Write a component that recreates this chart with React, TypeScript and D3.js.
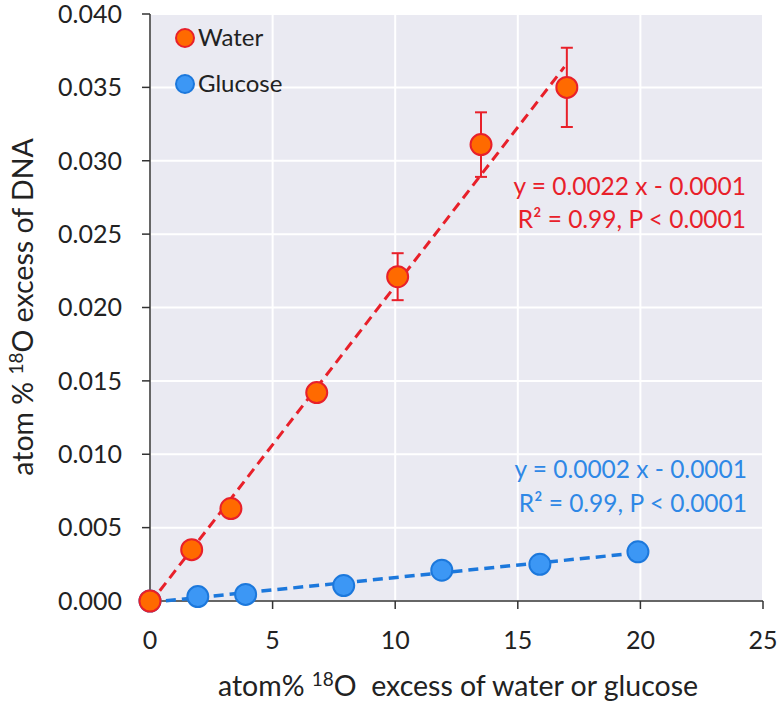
import * as d3 from 'd3'

// Water series (atom% 18O excess of water vs DNA)
const waterX = [0, 1.7, 3.3, 6.8, 10.1, 13.5, 17.0]
const waterY = [0, 0.0035, 0.0063, 0.0142, 0.0221, 0.0311, 0.035]
const waterErr = [0, 0, 0, 0, 0.0016, 0.0022, 0.0027]
const waterFitRange = [0, 16.9]

// Glucose series
const glucoseX = [0, 1.95, 3.9, 7.9, 11.9, 15.9, 19.9]
const glucoseY = [0, 0.0003, 0.00045, 0.00105, 0.0021, 0.0025, 0.00335]
const glucoseFitRange = [0, 19.7]

const xTicks = [0, 5, 10, 15, 20, 25]
const yTicks = [0, 0.005, 0.01, 0.015, 0.02, 0.025, 0.03, 0.035, 0.04]

const legendLabels = ['Water', 'Glucose']
const waterEq = ['y = 0.0022 x - 0.0001', 'R² = 0.99, P < 0.0001']
const glucoseEq = ['y = 0.0002 x - 0.0001', 'R² = 0.99, P < 0.0001']

const width = 779
const height = 706
const margin = { top: 14, right: 16, bottom: 105, left: 150 }
const font = 'Lato, "Open Sans", sans-serif'

const red = '#E8202A'
const orange = '#FF6A00'
const blue = '#2F88E6'
const blueFill = '#3C97F5'
const blueStroke = '#1C78DC'

// least squares fit for the dashed trend lines
function fit(xs: number[], ys: number[]) {
    const mx = d3.mean(xs) as number
    const my = d3.mean(ys) as number
    let sxy = 0
    let sxx = 0
    xs.forEach((x, i) => {
        sxy += (x - mx) * (ys[i] - my)
        sxx += (x - mx) * (x - mx)
    })
    const slope = sxy / sxx
    return { slope, intercept: my - slope * mx }
}

export default function App() {
    const x = d3.scaleLinear().domain([0, 25]).range([margin.left, width - margin.right])
    const y = d3.scaleLinear().domain([0, 0.04]).range([height - margin.bottom, margin.top])
    const fmt = d3.format('.3f')

    const wf = fit(waterX, waterY)
    const gf = fit(glucoseX, glucoseY)
    const line = d3.line<number[]>().x((d) => x(d[0])).y((d) => y(d[1]))
    const waterLine = line(waterFitRange.map((v) => [v, wf.slope * v + wf.intercept]))
    const glucoseLine = line(glucoseFitRange.map((v) => [v, gf.slope * v + gf.intercept]))

    const x0 = margin.left
    const x1 = width - margin.right
    const y0 = height - margin.bottom
    const y1 = margin.top

    return (
        <div style={{ position: 'absolute', left: 0, top: 0 }}>
            <svg width={width} height={height} style={{ display: 'block', background: 'white' }} fontFamily={font}>
                {/* plot background + grid */}
                <rect x={x0} y={y1} width={x1 - x0} height={y0 - y1} fill="#EAEAF2" />
                {yTicks.map((t) => (
                    <line key={'gy' + t} x1={x0} x2={x1} y1={y(t)} y2={y(t)} stroke="white" strokeWidth={2} />
                ))}
                {xTicks.map((t) => (
                    <line key={'gx' + t} x1={x(t)} x2={x(t)} y1={y0} y2={y1} stroke="white" strokeWidth={2} />
                ))}

                {/* axes */}
                <line x1={x0} x2={x0} y1={y1} y2={y0} stroke="#333" strokeWidth={1.5} />
                <line x1={x0} x2={x1} y1={y0} y2={y0} stroke="#333" strokeWidth={1.5} />
                {yTicks.map((t) => (
                    <g key={'ty' + t}>
                        <line x1={x0 - 8} x2={x0} y1={y(t)} y2={y(t)} stroke="#333" strokeWidth={1.5} />
                        <text x={x0 - 28} y={y(t)} dy="0.35em" textAnchor="end" fontSize={25} fill="#222">
                            {fmt(t)}
                        </text>
                    </g>
                ))}
                {xTicks.map((t) => (
                    <g key={'tx' + t}>
                        <line x1={x(t)} x2={x(t)} y1={y0} y2={y0 + 8} stroke="#333" strokeWidth={1.5} />
                        <text x={x(t)} y={y0 + 39} dy="0.35em" textAnchor="middle" fontSize={25} fill="#222">
                            {t}
                        </text>
                    </g>
                ))}

                {/* axis titles */}
                <text x={458} y={696} textAnchor="middle" fontSize={28.5} fill="#222" style={{ whiteSpace: 'pre' }}>
                    atom%{' '}
                    <tspan fontSize={19} dy={-10}>18</tspan>
                    <tspan dy={10}>O  excess of water or glucose</tspan>
                </text>
                <text
                    transform={`translate(33,${307}) rotate(-90)`}
                    textAnchor="middle"
                    fontSize={28.5}
                    fill="#222"
                >
                    atom %{' '}
                    <tspan fontSize={19} dy={-10}>18</tspan>
                    <tspan dy={10}>O excess of DNA</tspan>
                </text>

                {/* regression lines */}
                <path d={waterLine ?? ''} fill="none" stroke={red} strokeWidth={3} strokeDasharray="10 6" />
                <path d={glucoseLine ?? ''} fill="none" stroke={blueStroke} strokeWidth={3.5} strokeDasharray="10 6" />

                {/* error bars */}
                {waterX.map((v, i) =>
                    waterErr[i] > 0 ? (
                        <g key={'e' + i} stroke={red} strokeWidth={2}>
                            <line x1={x(v)} x2={x(v)} y1={y(waterY[i] - waterErr[i])} y2={y(waterY[i] + waterErr[i])} />
                            <line x1={x(v) - 6} x2={x(v) + 6} y1={y(waterY[i] - waterErr[i])} y2={y(waterY[i] - waterErr[i])} />
                            <line x1={x(v) - 6} x2={x(v) + 6} y1={y(waterY[i] + waterErr[i])} y2={y(waterY[i] + waterErr[i])} />
                        </g>
                    ) : null
                )}

                {/* points */}
                {glucoseX.map((v, i) => (
                    <circle key={'g' + i} cx={x(v)} cy={y(glucoseY[i])} r={10.5} fill={blueFill} stroke={blueStroke} strokeWidth={2} />
                ))}
                {waterX.map((v, i) => (
                    <circle key={'w' + i} cx={x(v)} cy={y(waterY[i])} r={10.5} fill={orange} stroke={red} strokeWidth={2} />
                ))}

                {/* equations */}
                {waterEq.map((s, i) => (
                    <text key={'we' + i} x={746} y={195 + i * 33} textAnchor="end" fontSize={24.5} fill={red}>
                        {s}
                    </text>
                ))}
                {glucoseEq.map((s, i) => (
                    <text key={'ge' + i} x={747} y={478 + i * 34} textAnchor="end" fontSize={24.5} fill={blue}>
                        {s}
                    </text>
                ))}

                {/* legend */}
                {legendLabels.map((s, i) => (
                    <g key={'l' + i}>
                        <circle
                            cx={185}
                            cy={38 + i * 46}
                            r={9}
                            fill={i === 0 ? orange : blueFill}
                            stroke={i === 0 ? red : blueStroke}
                            strokeWidth={2}
                        />
                        <text x={198} y={38 + i * 46} dy="0.35em" fontSize={24} fill="#222">
                            {s}
                        </text>
                    </g>
                ))}
            </svg>
        </div>
    )
}
